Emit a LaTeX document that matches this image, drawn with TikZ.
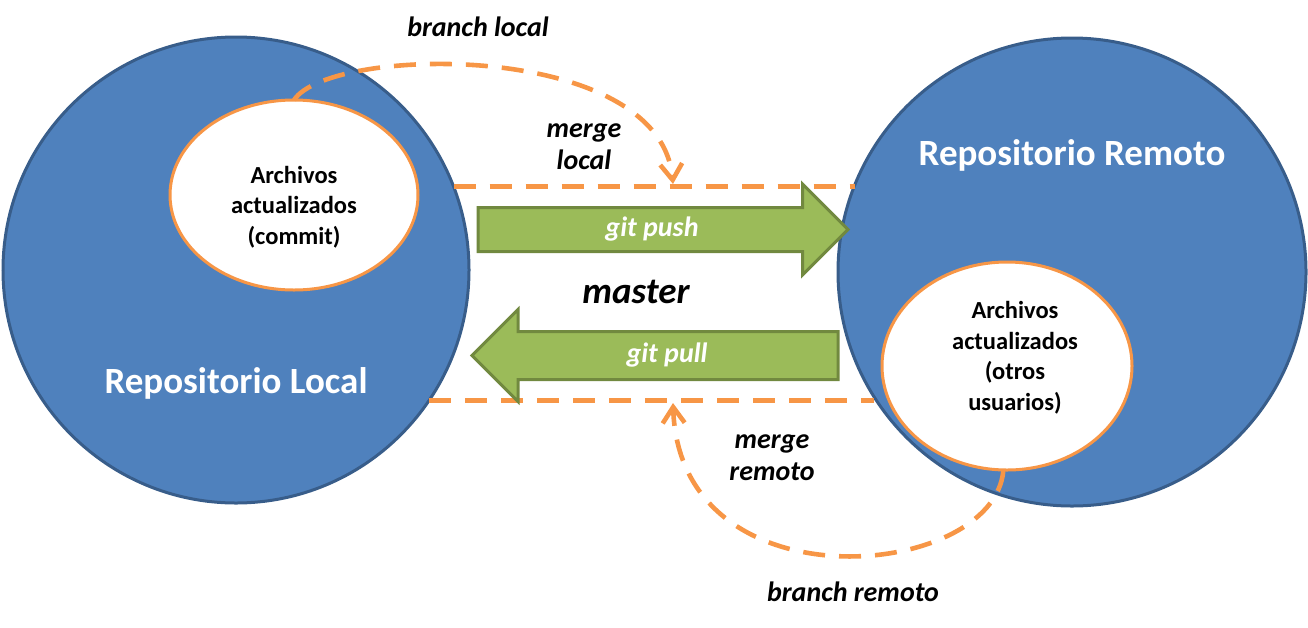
\documentclass[tikz,border=0pt]{standalone}
\usepackage{fontspec}
\setmainfont{Carlito}
\usetikzlibrary{shapes.geometric,shapes.arrows,arrows.meta}
\definecolor{repoblue}{HTML}{4F81BD}
\definecolor{repoedge}{HTML}{385D8A}
\definecolor{dashorange}{HTML}{F79646}
\definecolor{arrowgreen}{HTML}{9BBB59}
\definecolor{arrowedge}{HTML}{71893F}

\begin{document}
\begin{tikzpicture}[x=1pt,y=-1pt,
	repo/.style={circle, draw=repoedge, fill=repoblue, line width=3pt, minimum size=#1, inner sep=0pt, outer sep=0pt},
	files/.style={ellipse, draw=dashorange, fill=white, line width=3pt, inner sep=0pt, outer sep=0pt},
	filetext/.style={align=center, font=\fontsize{24.5}{30.5}\selectfont\bfseries},
	gitarrow/.style={single arrow, draw=arrowedge, fill=arrowgreen, line width=3pt, text=white, font=\fontsize{28}{34}\selectfont\bfseries\itshape, text height=20pt, text depth=6pt, inner ysep=7.5pt, single arrow tip angle=90, outer sep=0pt},
	branchline/.style={dashorange, line width=4.6pt, dash pattern=on 22pt off 14pt},
	tip/.style={-{Straight Barb[length=16pt,width=22pt]}},
	tag/.style={font=\fontsize{28}{32}\selectfont\bfseries\itshape, align=center},
	title/.style={text=white, font=\fontsize{37}{44}\selectfont\bfseries}]
	%%%%% START %%%%%
	\useasboundingbox (0,0) rectangle (1308,627);
	
	% repositorios
	\node[repo=466pt] (local) at (236,270) {};
	\node[repo=468pt] (remote) at (1072,272) {};
	\node[title] (localname) at (236,383) {Repositorio Local};
	\node[title] (remotename) at (1072,155) {Repositorio Remoto};
	
	\node[files, minimum width=248pt, minimum height=190pt] (localfiles) at (294,195) {};
	\node[filetext] (localtext) at (294,207) {Archivos\\actualizados\\(commit)};
	\node[files, minimum width=250pt, minimum height=208pt] (remotefiles) at (1007,366) {};
	\node[filetext] (remotetext) at (1015,358) {Archivos\\actualizados\\(otros\\usuarios)};
	
	% branch / merge
	\coordinate (localtip) at (673,184);
	\coordinate (remotetip) at (673,403);
	\draw[branchline] (local.21) -- (local.21 -| remote.158);
	\draw[branchline] (local.-34) -- (local.-34 -| remote.212);
	\draw[branchline, tip] (localfiles.north) .. controls (330,45) and (660,40) .. (localtip);
	\draw[branchline, tip] (remotefiles.268) .. controls (995,580) and (680,610) .. (remotetip);
	
	\node[tag] (branchlocal) at (478,27) {branch local};
	\node[tag] (mergelocal) at (584,147) {merge\\local};
	\node[tag] (mergeremote) at (772,458) {merge\\remoto};
	\node[tag] (branchremote) at (853,592) {branch remoto};
	
	% push / pull
	\node[gitarrow, minimum height=370pt, single arrow head extend=23.5pt, anchor=tail] (push) at (478,229.5) {git push};
	\node[gitarrow, minimum height=366pt, single arrow head extend=22pt, inner ysep=9.5pt, shape border rotate=180, anchor=tail] (pull) at (838,355.5) {git pull};
	\node[tag, font=\fontsize{37}{44}\selectfont\bfseries\itshape] (master) at (636,292) {master};
	
	%%%%% END %%%%%
\end{tikzpicture}
\end{document}
